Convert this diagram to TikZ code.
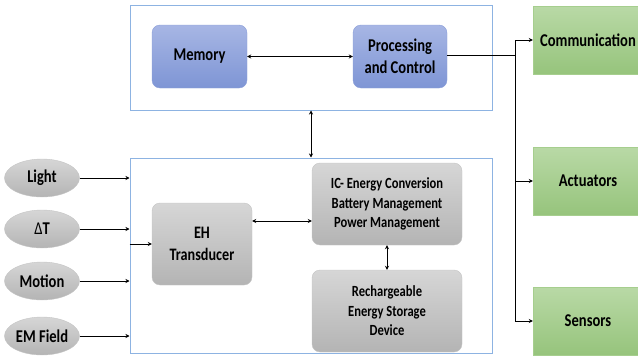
\documentclass[tikz,border=0pt]{standalone}
\usepackage{fontspec}
\setmainfont{Carlito}[FakeStretch=0.81]
\usetikzlibrary{arrows.meta,calc,shapes.geometric}
\definecolor{frameblue}{HTML}{8DB3E2}
\definecolor{blueT}{HTML}{A7B6E4}
\definecolor{blueB}{HTML}{7E95D5}
\definecolor{blueD}{HTML}{8A9ED8}
\definecolor{grayT}{HTML}{D6D6D6}
\definecolor{grayB}{HTML}{B4B4B4}
\definecolor{grayD}{HTML}{C4C4C4}
\definecolor{greenT}{HTML}{B9D9A6}
\definecolor{greenB}{HTML}{96C47C}
\definecolor{greenD}{HTML}{A6CE8E}
\tikzset{
  x=1pt, y=-1pt,
  txt/.style={font=\fontsize{18}{21.5}\selectfont\bfseries, align=center, text=black},
  smalltxt/.style={font=\fontsize{15.5}{19.6}\selectfont\bfseries},
  midtxt/.style={font=\fontsize{17.5}{21.7}\selectfont\bfseries},
  frame/.style={draw=frameblue, line width=1pt, inner sep=0pt},
  bluebox/.style={txt, rounded corners=8pt, draw=blueD, top color=blueT, bottom color=blueB, minimum width=95pt, minimum height=63pt},
  graybox/.style={txt, smalltxt, rounded corners=8pt, draw=grayD, top color=grayT, bottom color=grayB, minimum width=150pt, minimum height=82pt},
  greenbox/.style={txt, draw=greenD, top color=greenT, bottom color=greenB, minimum width=110pt, minimum height=68pt},
  src/.style={txt, ellipse, draw=grayD, top color=grayT, bottom color=grayB, minimum width=75pt, minimum height=38pt, inner sep=0pt},
  conn/.style={line width=0.9pt, -{Stealth[length=4pt,width=4pt]}},
  dconn/.style={line width=0.9pt, {Stealth[length=4pt,width=4pt]}-{Stealth[length=4pt,width=4pt]}},
}
\begin{document}
\begin{tikzpicture}
\useasboundingbox (0,0) rectangle (638,356);
\clip (0,0) rectangle (638,356);
% containers
\node[frame, minimum width=362pt, minimum height=105pt] (top) at (311,57.5) {};
\node[frame, minimum width=362pt, minimum height=195pt] (bot) at (311,255.5) {};
% top boxes
\node[bluebox] (mem) at (199.5,56.5) {Memory};
\node[bluebox, minimum width=94pt] (proc) at (400,56.5) {Processing\\and Control};
% bottom boxes
\node[graybox, midtxt, minimum width=100pt] (eh) at (202,244) {EH\\Transducer};
\node[graybox] (ic) at (387,204) {IC- Energy Conversion\\Battery Management\\Power Management};
\node[graybox] (res) at (387,311) {Rechargeable\\Energy Storage\\Device};
% sources
\node[src] (light) at (42,178) {Light};
\node[src] (dt) at (42,229) {{\mdseries Δ}T};
\node[src] (motion) at (42,281) {Motion};
\node[src] (em) at (42,336) {EM Field};
% outputs
\node[greenbox] (comm) at (588,40) {Communication};
\node[greenbox] (act) at (588,181) {Actuators};
\node[greenbox] (sens) at (588,321) {Sensors};
% connectors
\draw[dconn] (mem) -- (proc);
\draw[dconn] (top.south) -- (bot.north);
\coordinate (ehy) at (0,221);
\draw[dconn] (eh.east |- ehy) -- (ic.west |- ehy);
\draw[dconn] (ic.south) -- (res.north);
\foreach \s in {light,dt,motion,em}{
  \draw[conn] (\s.east) -- (\s -| bot.west);
}
\draw[conn] (bot.west |- eh) -- (eh.west);
\coordinate (bus) at (515,55);
\draw[line width=0.9pt] (proc.east |- bus) -- (bus);
\draw[line width=0.9pt] (bus |- comm) -- (bus |- sens);
\draw[conn] (bus |- comm) -- (comm.west);
\draw[conn] (bus |- act) -- (act.west);
\draw[conn] (bus |- sens) -- (sens.west);
\end{tikzpicture}
\end{document}
